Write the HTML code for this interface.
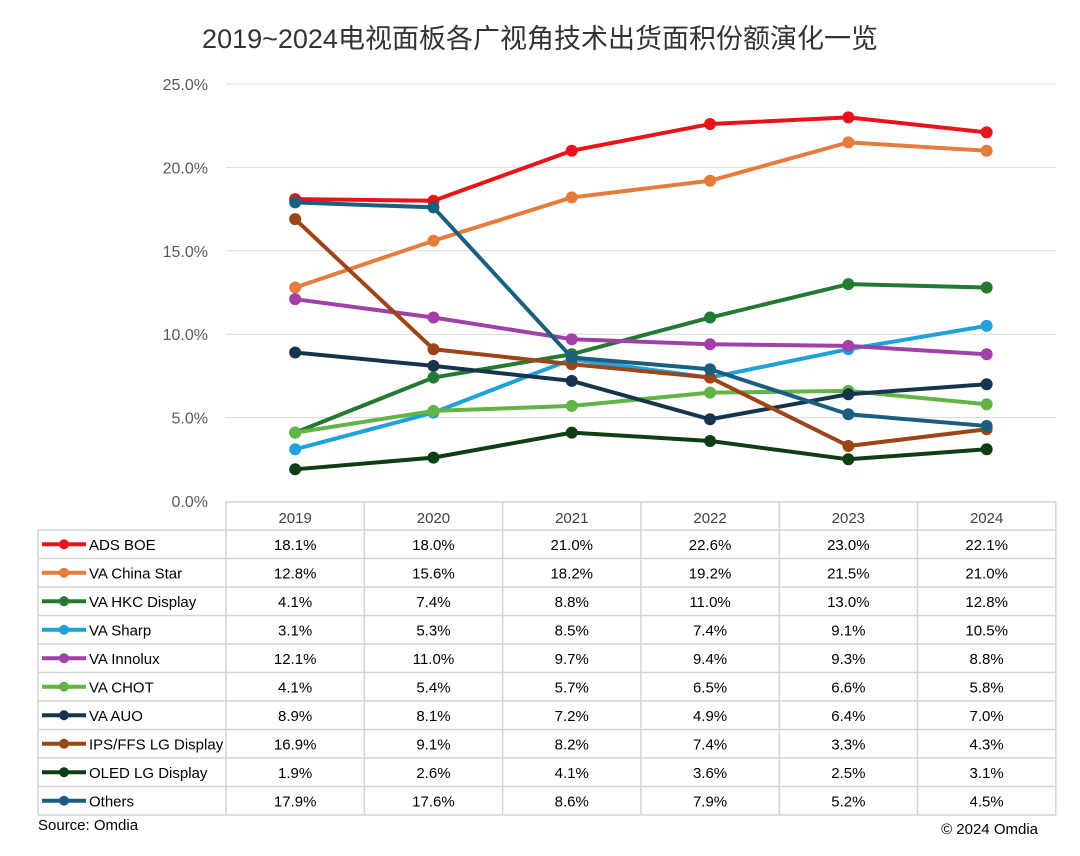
<!DOCTYPE html>
<html><head><meta charset="utf-8">
<style>
html,body{margin:0;padding:0;background:#fff;}
body{width:1080px;height:851px;overflow:hidden;position:relative;font-family:"Liberation Sans","Noto Sans CJK SC",sans-serif;}
svg text{font-family:"Liberation Sans","Noto Sans CJK SC",sans-serif;}
</style></head>
<body>
<svg id="chart" width="1080" height="851" xmlns="http://www.w3.org/2000/svg">
<text x="540" y="48" text-anchor="middle" font-size="27" fill="#333">2019~2024电视面板各广视角技术出货面积份额演化一览</text>
<g id="grid"></g><g id="lines"></g><g id="table"></g>
<text x="38" y="830" font-size="15" fill="#000">Source: Omdia</text>
<text x="1038" y="834" text-anchor="end" font-size="15" fill="#000">© 2024 Omdia</text>
</svg>
<script>
const years = ["2019","2020","2021","2022","2023","2024"];
const yTicks = [0,5,10,15,20,25];
const seriesNames = ["ADS BOE","VA China Star","VA HKC Display","VA Sharp","VA Innolux","VA CHOT","VA AUO","IPS/FFS LG Display","OLED LG Display","Others"];
const seriesColors = ["#e8141a","#e67c3c","#237a33","#1fa1d9","#a040a8","#62b446","#17344f","#9c4517","#0f3d14","#1a5f7f"];
const vBOE = [18.1,18.0,21.0,22.6,23.0,22.1];
const vChinaStar = [12.8,15.6,18.2,19.2,21.5,21.0];
const vHKC = [4.1,7.4,8.8,11.0,13.0,12.8];
const vSharp = [3.1,5.3,8.5,7.4,9.1,10.5];
const vInnolux = [12.1,11.0,9.7,9.4,9.3,8.8];
const vCHOT = [4.1,5.4,5.7,6.5,6.6,5.8];
const vAUO = [8.9,8.1,7.2,4.9,6.4,7.0];
const vLGIPS = [16.9,9.1,8.2,7.4,3.3,4.3];
const vOLED = [1.9,2.6,4.1,3.6,2.5,3.1];
const vOthers = [17.9,17.6,8.6,7.9,5.2,4.5];
const seriesValues = [vBOE,vChinaStar,vHKC,vSharp,vInnolux,vCHOT,vAUO,vLGIPS,vOLED,vOthers];

const NS="http://www.w3.org/2000/svg";
const x0=226, colW=138.3, y0=501, pxPer=16.68, tableR=1056;
const xPos=i=>x0+colW*(i+0.5);
const yPos=v=>y0-v*pxPer;
function mk(tag,attrs,parent,text){const e=document.createElementNS(NS,tag);for(const k in attrs)e.setAttribute(k,attrs[k]);if(text!==undefined)e.textContent=text;parent.appendChild(e);return e;}
const grid=document.getElementById('grid'),lines=document.getElementById('lines'),table=document.getElementById('table');
yTicks.forEach(t=>{
  if(t>0){const l=mk('line',{x1:x0,x2:tableR,y1:yPos(t),y2:yPos(t),stroke:'#d9d9d9','stroke-width':1},grid);
  
  }
  const tx=mk('text',{x:208,y:yPos(t)+6,'text-anchor':'end','font-size':16,fill:'#595959'},grid,t.toFixed(1)+'%');
  
  
});
seriesValues.forEach((vals,s)=>{
  const g=mk('g',{},lines);
  
  
  const p=mk('polyline',{points:vals.map((v,i)=>xPos(i)+','+yPos(v)).join(' '),fill:'none',stroke:seriesColors[s],'stroke-width':4,'stroke-linejoin':'round'},g);
  
  
  vals.forEach((v,i)=>{const c=mk('circle',{cx:xPos(i),cy:yPos(v),r:6,fill:seriesColors[s]},g);
  
  });
});
// table
const hTop=502,hBot=530,rowH=28.5,tableBot=hBot+rowH*10;
const tl=[];
tl.push([x0,hTop,tableR,hTop]);
tl.push([38,hBot,tableR,hBot]);
for(let r=1;r<=10;r++)tl.push([38,hBot+rowH*r,tableR,hBot+rowH*r]);
for(let c=0;c<=6;c++)tl.push([x0+colW*c,hTop,x0+colW*c,tableBot]);
tl.push([38,hBot,38,tableBot]);
tl.forEach(a=>{const l=mk('line',{x1:a[0],y1:a[1],x2:a[2],y2:a[3],stroke:'#d4d4d4','stroke-width':1.5},table);

});
years.forEach((y,i)=>{const t=mk('text',{x:xPos(i),y:hTop+21,'text-anchor':'middle','font-size':15,fill:'#404040'},table,y);

});
seriesNames.forEach((n,s)=>{
  const cy=hBot+rowH*s+rowH/2;
  const k=mk('line',{x1:42,x2:86,y1:cy,y2:cy,stroke:seriesColors[s],'stroke-width':4},table);
  
  
  const kc=mk('circle',{cx:64,cy:cy,r:5,fill:seriesColors[s]},table);
  
  
  const t=mk('text',{x:89,y:cy+5.5,'font-size':15,fill:'#000'},table,n);
  
  
  seriesValues[s].forEach((v,i)=>{const c=mk('text',{x:xPos(i),y:cy+5.5,'text-anchor':'middle','font-size':15,fill:'#000'},table,v.toFixed(1)+'%');
  
  });
});
</script>
</body></html>
